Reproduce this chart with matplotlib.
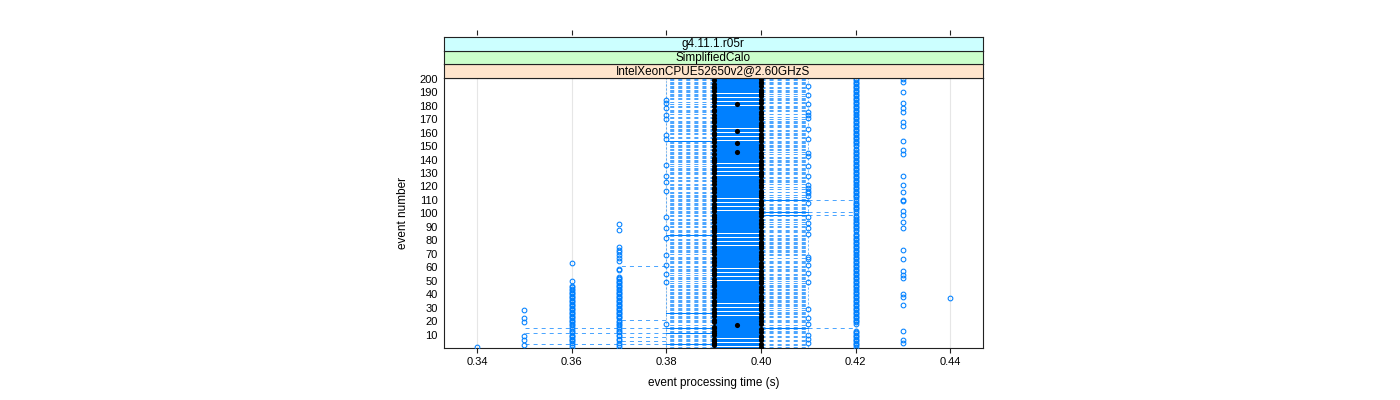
import matplotlib
matplotlib.use("Agg")
import matplotlib.pyplot as plt
import numpy as np
from matplotlib.collections import LineCollection, PatchCollection
from matplotlib.patches import Rectangle

plt.rcParams['font.family'] = ['Liberation Sans', 'DejaVu Sans']

# ---------------- data ----------------
strip_labels = ["IntelXeonCPUE52650v2@2.60GHzS", "SimplifiedCalo", "g4.11.1.r05r"]
strip_colors = ["#ffe5cc", "#ccffcc", "#ccffff"]
x_ticks = [0.34, 0.36, 0.38, 0.40, 0.42, 0.44]
x_tick_labels = ["0.34", "0.36", "0.38", "0.40", "0.42", "0.44"]
y_ticks = [10, 20, 30, 40, 50, 60, 70, 80, 90, 100, 110, 120, 130, 140, 150,
           160, 170, 180, 190, 200]
x_label = "event processing time (s)"
y_label = "event number"

n_events = 200
events = np.arange(1, n_events + 1)

# median per event (ms), event 1 .. 200
median_ms = [
    400, 390, 400, 390, 390, 400, 390, 400, 400, 390, 390, 400, 390, 400, 390, 390, 395, 400, 390, 400,
    390, 400, 400, 390, 400, 390, 390, 400, 390, 400, 400, 390, 400, 390, 390, 400, 400, 390, 400, 390,
    390, 400, 390, 400, 400, 390, 390, 400, 390, 400, 390, 400, 400, 390, 400, 390, 400, 390, 390, 400,
    400, 390, 400, 390, 390, 400, 390, 400, 400, 390, 400, 390, 390, 400, 390, 400, 400, 390, 400, 390,
    390, 400, 390, 400, 400, 390, 400, 390, 390, 400, 390, 400, 400, 390, 400, 390, 390, 400, 390, 400,
    400, 390, 400, 390, 390, 400, 390, 400, 400, 390, 390, 400, 390, 400, 400, 390, 400, 390, 390, 400,
    400, 390, 400, 390, 400, 390, 390, 400, 400, 390, 400, 390, 390, 400, 390, 400, 400, 390, 400, 390,
    390, 400, 400, 390, 400, 395, 390, 400, 400, 390, 400, 395, 390, 400, 390, 400, 400, 390, 400, 390,
    395, 400, 390, 400, 390, 400, 400, 390, 390, 400, 390, 400, 390, 400, 400, 390, 390, 400, 400, 390,
    395, 400, 390, 400, 390, 390, 400, 390, 400, 400, 390, 400, 390, 390, 400, 390, 400, 400, 390, 400,
]

# box (lower / upper hinge), ms: default plus per-event exceptions
box_low_default = 390
box_low_exceptions = {3: 380, 11: 380, 15: 380, 26: 380, 84: 380, 154: 380}
box_high_default = 400
box_high_exceptions = {15: 410, 99: 410, 101: 410, 110: 410}

# whisker ends, ms
whisk_low_default = 380
whisk_low_exceptions = {
    3: 350, 11: 350, 15: 350, 5: 370, 8: 370, 21: 370, 61: 370,
    18: 390, 49: 390, 55: 390, 62: 390, 69: 390, 82: 390, 89: 390, 97: 390,
    117: 390, 123: 390, 128: 390, 136: 390, 155: 390, 158: 390, 170: 390,
    173: 390, 178: 390, 182: 390, 184: 390,
}
whisk_high_default = 410
whisk_high_exceptions = {
    15: 420, 99: 420, 101: 420, 110: 420,
    4: 400, 7: 400, 10: 400, 18: 400, 22: 400, 29: 400, 49: 400, 56: 400,
    62: 400, 66: 400, 68: 400, 85: 400, 89: 400, 93: 400, 97: 400, 108: 400,
    113: 400, 115: 400, 117: 400, 119: 400, 121: 400, 128: 400, 135: 400,
    143: 400, 145: 400, 155: 400, 163: 400, 171: 400, 173: 400, 175: 400,
    181: 400, 188: 400, 195: 400,
}

# outliers: time (ms) -> events
outliers_340 = [1]
outliers_350 = [2, 6, 9, 19, 22, 28]
outliers_360 = [1, 2, 4, 5, 6, 7, 8, 9, 10, 12, 13, 14, 16, 17, 18, 19, 20, 21,
                22, 23, 24, 25, 26, 27, 28, 29, 30, 31, 32, 33, 34, 35, 36, 37,
                38, 39, 40, 41, 42, 43, 44, 45, 46, 50, 63]
outliers_370 = [1, 2, 4, 6, 7, 9, 10, 12, 13, 14, 16, 17, 18, 19, 20, 22, 23,
                24, 25, 26, 27, 28, 29, 30, 31, 32, 33, 34, 35, 36, 37, 38, 39,
                40, 41, 42, 43, 44, 45, 46, 47, 48, 49, 50, 51, 52, 53, 58, 59,
                65, 67, 69, 71, 73, 75, 88, 92]
outliers_380 = [18, 49, 55, 62, 69, 82, 89, 97, 117, 123, 128, 136, 155, 158,
                170, 173, 178, 182, 184]
outliers_410 = [4, 7, 10, 18, 22, 29, 49, 56, 62, 66, 68, 85, 89, 93, 97, 108,
                113, 115, 117, 119, 121, 128, 135, 143, 145, 155, 163, 171, 173,
                175, 181, 188, 195]
events_without_420 = [14, 15, 16, 17, 86, 99, 101, 110, 149]
outliers_430 = [4, 6, 13, 32, 38, 40, 52, 54, 57, 66, 73, 89, 94, 99, 102, 109,
                110, 116, 121, 128, 144, 147, 154, 165, 168, 175, 178, 182, 190,
                198, 200]
outliers_440 = [37]

# ---------------- build per-event stats ----------------
def per_event(default, exceptions):
    arr = np.full(n_events, default, dtype=float)
    for e, v in exceptions.items():
        arr[e - 1] = v
    return arr / 1000.0

box_lo = per_event(box_low_default, box_low_exceptions)
box_hi = per_event(box_high_default, box_high_exceptions)
w_lo = per_event(whisk_low_default, whisk_low_exceptions)
w_hi = per_event(whisk_high_default, whisk_high_exceptions)
med = np.array(median_ms) / 1000.0
outliers_420 = [e for e in events if e not in events_without_420]
outliers = {
    0.34: outliers_340, 0.35: outliers_350, 0.36: outliers_360,
    0.37: outliers_370, 0.38: outliers_380, 0.41: outliers_410,
    0.42: outliers_420, 0.43: outliers_430, 0.44: outliers_440,
}

BLUE = "#0080ff"

# ---------------- figure ----------------
W, H = 1400, 400
fig = plt.figure(figsize=(14, 4), dpi=100)

pl, pr, pt, pb = 443.5, 983.3, 78.0, 347.5
ax = fig.add_axes([pl / W, 1 - pb / H, (pr - pl) / W, (pb - pt) / H])
ax.set_xlim(0.3329, 0.4470)
ax.set_ylim(0.4, 200.6)

for t in x_ticks:
    ax.axvline(t, color="#e6e6e6", lw=0.8, zorder=0)

box_h = 0.15
rects = [Rectangle((box_lo[i], events[i] - box_h / 2), box_hi[i] - box_lo[i], box_h)
         for i in range(n_events)]
ax.add_collection(PatchCollection(rects, facecolor="none", edgecolor=BLUE,
                                  linewidth=0.72, antialiased=False, zorder=2))

segs = []
for i in range(n_events):
    y = events[i]
    if w_lo[i] < box_lo[i]:
        segs.append([(box_lo[i], y), (w_lo[i], y)])
    if w_hi[i] > box_hi[i]:
        segs.append([(box_hi[i], y), (w_hi[i], y)])
ax.add_collection(LineCollection(segs, colors=BLUE, linewidths=0.5,
                                 linestyles=(0, (5.8, 5.8)), zorder=3))
cap_h = 0.5
caps = []
for i in range(n_events):
    y = events[i]
    if w_lo[i] < box_lo[i]:
        caps.append([(w_lo[i], y - cap_h / 2), (w_lo[i], y + cap_h / 2)])
    if w_hi[i] > box_hi[i]:
        caps.append([(w_hi[i], y - cap_h / 2), (w_hi[i], y + cap_h / 2)])
ax.add_collection(LineCollection(caps, colors=BLUE, linewidths=0.5, zorder=3))

ax.plot(med, events, "o", color="black", ms=3.7, mew=0, zorder=4)

for t, evs in outliers.items():
    ax.plot([t] * len(evs), evs, "o", mfc="none", mec=BLUE, ms=3.4, mew=0.75,
            zorder=5)

for s in ax.spines.values():
    s.set_color("#222222")
    s.set_linewidth(0.8)
ax.set_xticks(x_ticks)
ax.set_xticklabels(x_tick_labels, fontsize=8)
ax.set_yticks(y_ticks)
ax.set_yticklabels([str(v) for v in y_ticks], fontsize=8)
ax.tick_params(axis="x", direction="out", length=3.6, width=0.8, pad=3,
               color="#222222")
ax.tick_params(axis="y", length=0, pad=4.3)

fig.text((pl + pr) / 2 / W, 1 - 383 / H, x_label, ha="center", va="center",
         fontsize=8.5)
fig.text(403 / W, 1 - 213 / H, y_label, ha="center", va="center",
         rotation=90, fontsize=8.5)

# strips
strip_bounds = [(78.0, 64.3), (64.3, 50.7), (50.7, 37.0)]
for (bot, top), lab, col in zip(strip_bounds, strip_labels, strip_colors):
    sax = fig.add_axes([pl / W, 1 - bot / H, (pr - pl) / W, (bot - top) / H])
    sax.set_facecolor(col)
    sax.set_xticks([])
    sax.set_yticks([])
    for s in sax.spines.values():
        s.set_color("#222222")
        s.set_linewidth(0.8)
    sax.text(0.5, 0.5, lab, ha="center", va="center", fontsize=8.5,
             transform=sax.transAxes)

# top ticks above strips
tax = fig.add_axes([pl / W, 1 - 34.5 / H, (pr - pl) / W, 0.001])
tax.set_xlim(ax.get_xlim())
tax.patch.set_visible(False)
for s in tax.spines.values():
    s.set_visible(False)
tax.set_yticks([])
tax.set_xticks(x_ticks)
tax.set_xticklabels([])
tax.tick_params(axis="x", direction="in", length=3.6, width=0.8,
                color="#222222", bottom=True)

fig.savefig("out.png", dpi=100)
